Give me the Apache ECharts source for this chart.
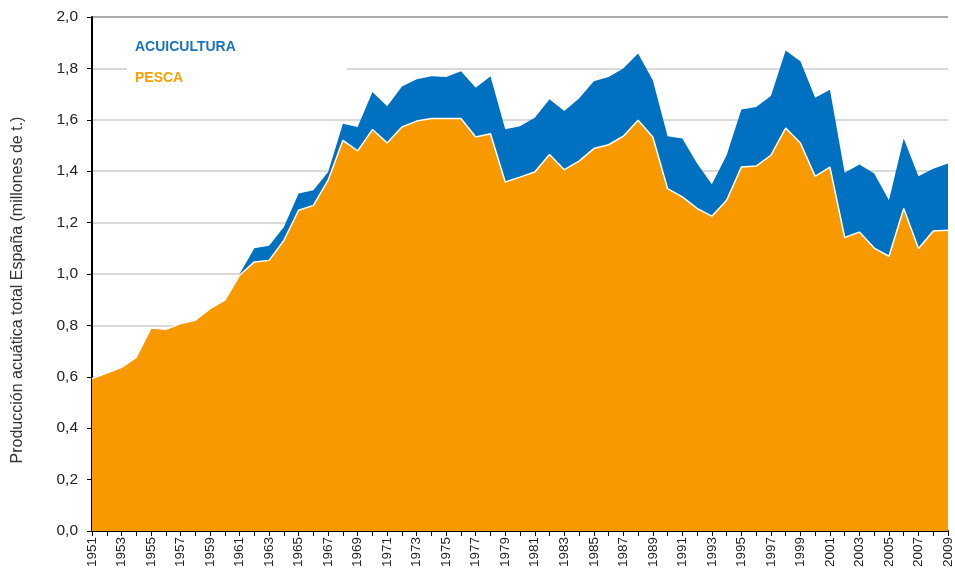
<!DOCTYPE html>
<html>
<head>
<meta charset="utf-8">
<script src="https://cdn.jsdelivr.net/npm/echarts@6/dist/echarts.min.js"></script>
<style>
  html, body { margin: 0; padding: 0; background: #fff; }
  #chart { width: 955px; height: 572px; }
</style>
</head>
<body>
<div id="chart"></div>
<script>
// años 1951 - 2009
const years = []
for (let y = 1951; y <= 2009; y++) years.push(String(y))

// millones de t.
const pesca = [
  0.593, 0.615, 0.637, 0.676, 0.790, 0.785, 0.807, 0.820, 0.865, 0.898,
  0.995, 1.047, 1.053, 1.131, 1.248, 1.267, 1.365, 1.520, 1.479, 1.562,
  1.510, 1.572, 1.595, 1.605, 1.605, 1.605, 1.533, 1.546, 1.358, 1.377,
  1.397, 1.465, 1.406, 1.439, 1.488, 1.503, 1.536, 1.598, 1.533, 1.332,
  1.300, 1.255, 1.225, 1.287, 1.416, 1.420, 1.462, 1.568, 1.510, 1.380,
  1.416, 1.142, 1.163, 1.101, 1.069, 1.255, 1.099, 1.167, 1.170
]
const acuicultura = [
  0, 0, 0, 0, 0, 0, 0, 0, 0, 0,
  0.005, 0.053, 0.057, 0.052, 0.065, 0.059, 0.032, 0.065, 0.093, 0.146,
  0.143, 0.158, 0.163, 0.164, 0.162, 0.184, 0.192, 0.223, 0.205, 0.198,
  0.211, 0.215, 0.228, 0.244, 0.262, 0.264, 0.264, 0.260, 0.221, 0.204,
  0.227, 0.175, 0.124, 0.175, 0.224, 0.230, 0.231, 0.302, 0.318, 0.306,
  0.301, 0.252, 0.263, 0.290, 0.218, 0.272, 0.281, 0.243, 0.260
]

const chart = echarts.init(document.getElementById('chart'))

const gridColors = []
for (let i = 0; i < 10; i++) gridColors.push('#cccccc')
gridColors.push('#8c8c8c') // linea superior 2,0

chart.setOption({
  animation: false,
  textStyle: { fontFamily: 'Liberation Sans, Arial, sans-serif' },
  legend: {
    orient: 'vertical',
    left: 127,
    top: 25,
    padding: [15, 111, 20, 3],
    backgroundColor: '#fff',
    itemWidth: 0,
    itemHeight: 0,
    itemGap: 17,
    icon: 'none',
    selectedMode: false,
    data: [
      { name: 'ACUICULTURA', textStyle: { color: '#1a73bd', fontWeight: 'bold', fontSize: 14 } },
      { name: 'PESCA', textStyle: { color: '#f9a000', fontWeight: 'bold', fontSize: 14 } }
    ]
  },
  grid: {
    left: 92,
    right: 7,
    top: 17,
    bottom: 41
  },
  xAxis: {
    type: 'category',
    data: years,
    boundaryGap: false,
    axisLine: { lineStyle: { color: '#000', width: 2 } },
    axisTick: { interval: 0, length: 5, lineStyle: { color: '#000' } },
    axisLabel: {
      interval: 1,
      rotate: 90,
      color: '#222',
      fontSize: 13.5,
      margin: 6
    },
    splitLine: { show: false }
  },
  yAxis: {
    type: 'value',
    min: 0,
    max: 2,
    interval: 0.2,
    name: 'Producción acuática total España (millones de t.)',
    nameLocation: 'middle',
    nameGap: 66,
    nameTextStyle: { color: '#333', fontSize: 16, padding: [0, 32, 0, 0] },
    axisLine: { show: true, lineStyle: { color: '#000', width: 2 } },
    axisTick: { show: true, length: 5, lineStyle: { color: '#000' } },
    axisLabel: {
      color: '#222',
      fontSize: 15.5,
      margin: 14,
      formatter: v => v.toFixed(1).replace('.', ',')
    },
    splitLine: { lineStyle: { color: gridColors, width: 1.5 } }
  },
  series: [
    {
      name: 'PESCA',
      type: 'line',
      stack: 'total',
      data: pesca,
      showSymbol: false,
      z: 3,
      lineStyle: { color: '#fff', width: 1.5 },
      itemStyle: { color: '#f99900' },
      areaStyle: { color: '#f99900', opacity: 1 }
    },
    {
      name: 'ACUICULTURA',
      type: 'line',
      stack: 'total',
      data: acuicultura,
      showSymbol: false,
      z: 2,
      lineStyle: { width: 0 },
      itemStyle: { color: '#0070c0' },
      areaStyle: { color: '#0070c0', opacity: 1 }
    }
  ]
})
</script>
</body>
</html>
